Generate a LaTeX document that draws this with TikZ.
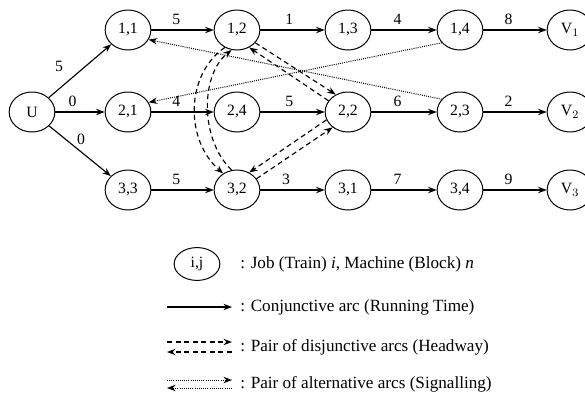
\documentclass[tikz,border=0pt]{standalone}
\usepackage{fontspec}
\setmainfont{Liberation Serif}
\usetikzlibrary{arrows.meta,shapes.geometric}

\begin{document}
\begin{tikzpicture}[x=0.7pt,y=-0.7pt,
    every node/.style={font=\fontsize{11}{13}\selectfont},
    job/.style={draw,ellipse,line width=0.7pt,minimum width=32pt,minimum height=28pt,inner sep=0pt},
    conj/.style={-{Stealth[length=6pt,width=4.5pt]},line width=0.8pt},
    disj/.style={-{Stealth[length=6pt,width=4.5pt]},line width=0.8pt,dash pattern=on 3.5pt off 2.5pt},
    alt/.style={-{Stealth[length=6pt,width=4.5pt]},line width=0.7pt,dash pattern=on 0.7pt off 0.8pt},
    keytext/.style={anchor=west,inner sep=0pt,font=\large}]
  \useasboundingbox (0,0) rectangle (585,398);

  % jobs
  \node[job] (u)   at (32,112)  {U};
  \node[job] (n11) at (128,30)  {1,1};
  \node[job] (n12) at (237,30)  {1,2};
  \node[job] (n13) at (348,30)  {1,3};
  \node[job] (n14) at (460,30)  {1,4};
  \node[job] (v1)  at (570,30)  {V$_1$};
  \node[job] (n21) at (128,112) {2,1};
  \node[job] (n24) at (237,112) {2,4};
  \node[job] (n22) at (348,112) {2,2};
  \node[job] (n23) at (460,112) {2,3};
  \node[job] (v2)  at (570,112) {V$_2$};
  \node[job] (n33) at (128,190) {3,3};
  \node[job] (n32) at (237,190) {3,2};
  \node[job] (n31) at (348,190) {3,1};
  \node[job] (n34) at (460,190) {3,4};
  \node[job] (v3)  at (570,190) {V$_3$};

  % running times
  \draw[conj] (u) -- node[pos=0.35,above left,inner sep=5pt] {5} (n11);
  \draw[conj] (u) -- node[pos=0.35,above] {0} (n21);
  \draw[conj] (u) -- node[pos=0.42,above right,inner sep=1pt] {0} (n33);
  \draw[conj] (n11) -- node[pos=0.4,above] {5} (n12);
  \draw[conj] (n12) -- node[pos=0.45,above] {1} (n13);
  \draw[conj] (n13) -- node[pos=0.4,above] {4} (n14);
  \draw[conj] (n14) -- node[pos=0.4,above] {8} (v1);
  \draw[conj] (n21) -- node[pos=0.4,above] {4} (n24);
  \draw[conj] (n24) -- node[pos=0.45,above] {5} (n22);
  \draw[conj] (n22) -- node[pos=0.4,above] {6} (n23);
  \draw[conj] (n23) -- node[pos=0.4,above] {2} (v2);
  \draw[conj] (n33) -- node[pos=0.4,above] {5} (n32);
  \draw[conj] (n32) -- node[pos=0.4,above] {3} (n31);
  \draw[conj] (n31) -- node[pos=0.4,above] {7} (n34);
  \draw[conj] (n34) -- node[pos=0.4,above] {9} (v3);

  % headways
  \draw[disj] (n12.-35) -- (n22.125);
  \draw[disj] (n22.150) -- (n12.-55);
  \draw[disj] (n22.200) -- (n32.55);
  \draw[disj] (n32.30) -- (n22.225);
  \draw[disj] (n12.235) .. controls (185,75) and (185,140) .. (n32.130);
  \draw[disj] (n32.105) .. controls (200,140) and (200,75) .. (n12.255);

  % signalling
  \draw[alt] (n14.215) -- (n21.25);
  \draw[alt] (n23.145) -- (n11.-25);

  % key
  \node[job,minimum height=23pt] (key) at (197,264) {i,j};
  \node[keytext] (t1) at (240,264) {: Job (Train) \textit{i}, Machine (Block) \textit{n}};
  \coordinate (c1a) at (167,307);
  \coordinate (c1b) at (232,307);
  \draw[conj] (c1a) -- (c1b);
  \node[keytext] (t2) at (240,307) {: Conjunctive arc (Running Time)};
  \coordinate (c2a) at (167,342);
  \coordinate (c2b) at (232,342);
  \coordinate (c2c) at (232,352);
  \coordinate (c2d) at (167,352);
  \draw[disj] (c2a) -- (c2b);
  \draw[disj] (c2c) -- (c2d);
  \node[keytext] (t3) at (240,347) {: Pair of disjunctive arcs (Headway)};
  \coordinate (c3a) at (167,380);
  \coordinate (c3b) at (232,380);
  \coordinate (c3c) at (232,388);
  \coordinate (c3d) at (167,388);
  \draw[alt] (c3a) -- (c3b);
  \draw[alt] (c3c) -- (c3d);
  \node[keytext] (t4) at (240,384) {: Pair of alternative arcs (Signalling)};
\end{tikzpicture}
\end{document}
